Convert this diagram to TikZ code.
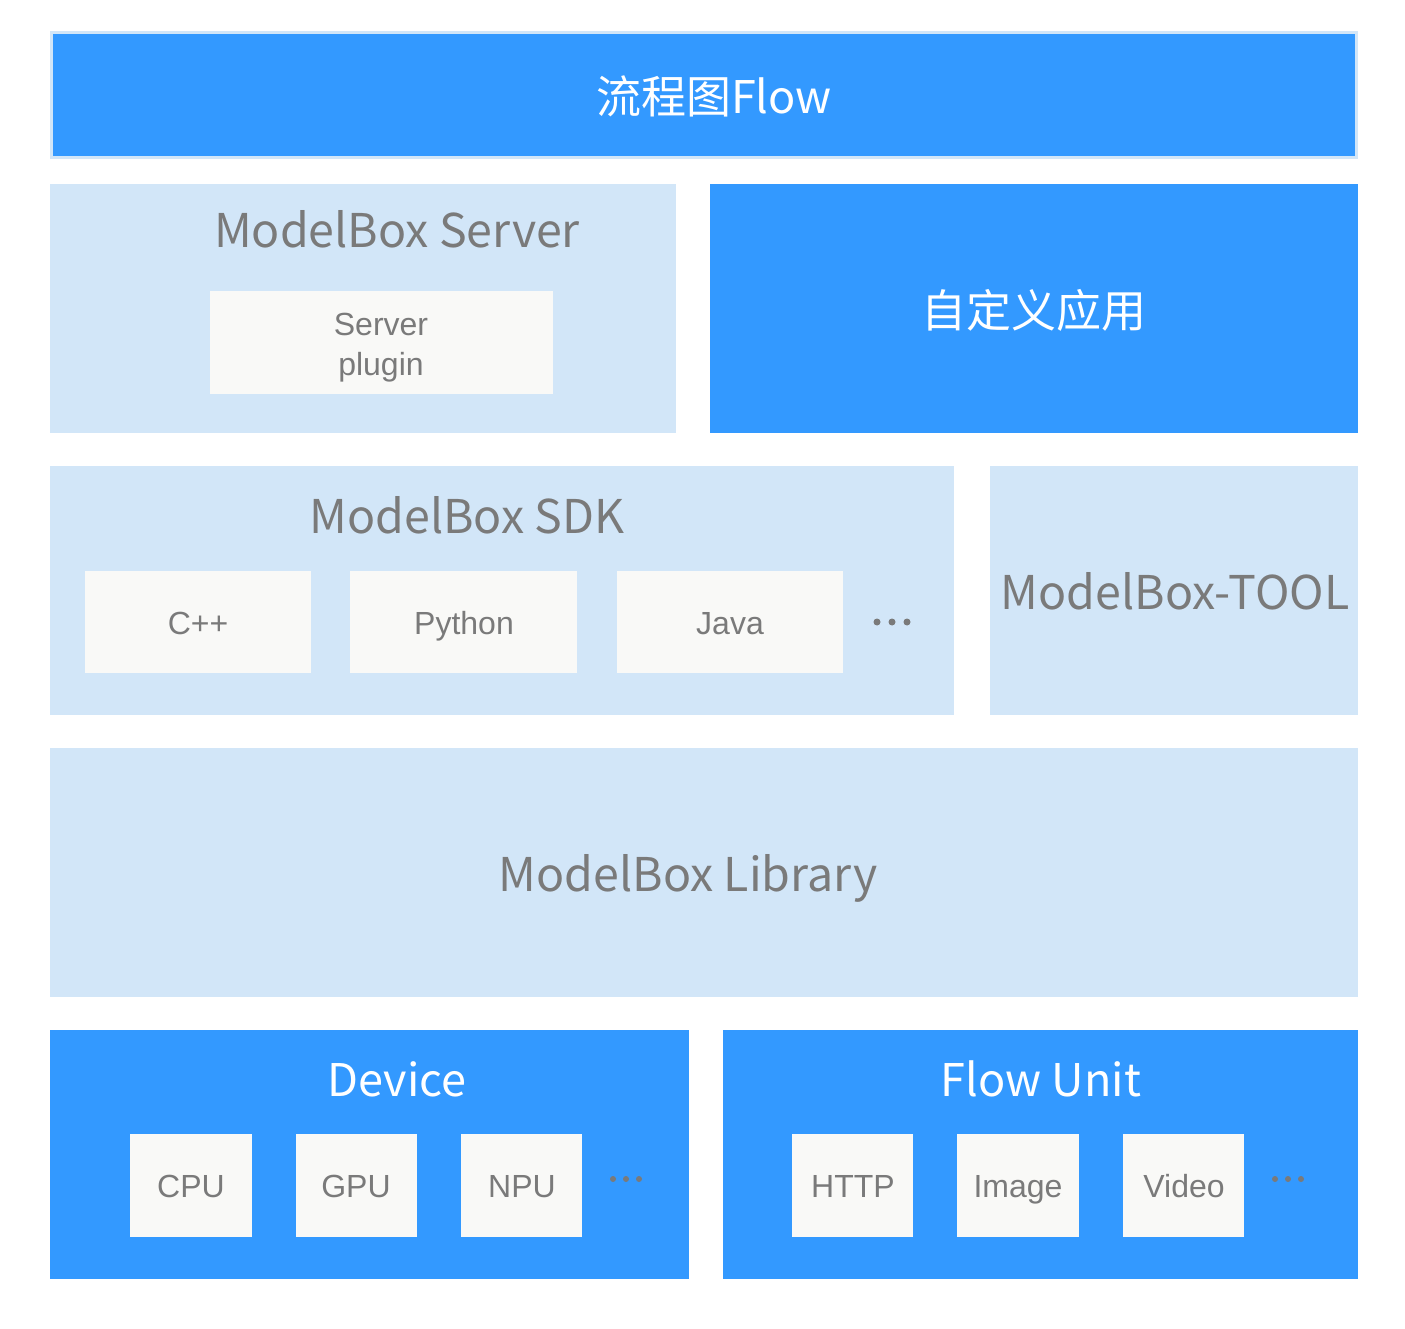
\documentclass[tikz,border=0pt]{standalone}
\usepackage{fontspec}
\setmainfont{Liberation Sans}
\newfontfamily\cjk{Noto Sans CJK SC}
\usetikzlibrary{positioning}
\definecolor{mbblue}{HTML}{3399FF}
\definecolor{mblight}{HTML}{D2E6F8}
\definecolor{mbpaper}{HTML}{F9F9F7}
\definecolor{mbgray}{HTML}{7A7A7A}

\begin{document}
\begin{tikzpicture}[
    x=1pt, y=-1pt,
    every node/.style={inner sep=0, outer sep=0},
    layer/.style={rectangle, fill=mblight, anchor=north west},
    hotlayer/.style={rectangle, fill=mbblue, anchor=north west},
    item/.style={rectangle, fill=mbpaper, anchor=north west},
    label/.style={text=mbgray, font=\fontsize{32}{40}\selectfont, text height=23, text depth=0},
    title/.style={text=mbgray, font=\cjk\fontsize{46.5}{52}\selectfont, text depth=0},
    hottitle/.style={text=white, font=\cjk\fontsize{45}{50}\selectfont},
    dot/.style={fill=mbgray}
]
\useasboundingbox (0,0) rectangle (1405,1329);

% top bar
\node[hotlayer, draw=mblight, line width=3, minimum width=1305, minimum height=125] (flow) at (51.5,32.5) {};
\node[hottitle] (flowtxt) at (714,96) {流程图Flow};

% server and custom app
\node[layer, minimum width=626, minimum height=249] (server) at (50,184) {};
\node[title] (servertxt) at (397,229) {ModelBox Server};
\node[item, minimum width=343, minimum height=103] (plugin) at (210,291) {};
\node[text=mbgray, align=center, font=\fontsize{32}{40}\selectfont] (plugintxt) at (381,348) {Server\\plugin};
\node[hotlayer, minimum width=648, minimum height=249] (app) at (710,184) {};
\node[hottitle] (apptxt) at (1034,310) {自定义应用};

% sdk and tool
\node[layer, minimum width=904, minimum height=249] (sdk) at (50,466) {};
\node[title] (sdktxt) at (467,515) {ModelBox SDK};
\node[item, minimum width=226, minimum height=102] (cpp) at (85,571) {};
\node[label] (cpptxt) at (198,623) {C++};
\node[item, minimum width=227, minimum height=102] (python) at (350,571) {};
\node[label] (pythontxt) at (464,623) {Python};
\node[item, minimum width=226, minimum height=102] (java) at (617,571) {};
\node[label] (javatxt) at (730,623) {Java};
\fill[dot] (877,622) circle (3.5) (892,622) circle (3.5) (907,622) circle (3.5);
\node[layer, minimum width=368, minimum height=249] (tool) at (990,466) {};
\node[title] (tooltxt) at (1175,591) {ModelBox-TOOL};

% library
\node[layer, minimum width=1308, minimum height=249] (library) at (50,748) {};
\node[title] (librarytxt) at (688,873) {ModelBox Library};

% device
\node[hotlayer, minimum width=639, minimum height=249] (device) at (50,1030) {};
\node[hottitle] (devicetxt) at (397,1079) {Device};
\node[item, minimum width=122, minimum height=103] (cpu) at (130,1134) {};
\node[label] (cputxt) at (191,1186) {CPU};
\node[item, minimum width=121, minimum height=103] (gpu) at (296,1134) {};
\node[label] (gputxt) at (356,1186) {GPU};
\node[item, minimum width=121, minimum height=103] (npu) at (461,1134) {};
\node[label] (nputxt) at (522,1186) {NPU};
\fill[dot] (613,1179) circle (3) (626,1179) circle (3) (639,1179) circle (3);

% flow unit
\node[hotlayer, minimum width=635, minimum height=249] (unit) at (723,1030) {};
\node[hottitle] (unittxt) at (1041,1079) {Flow Unit};
\node[item, minimum width=121, minimum height=103] (http) at (792,1134) {};
\node[label] (httptxt) at (853,1186) {HTTP};
\node[item, minimum width=122, minimum height=103] (image) at (957,1134) {};
\node[label] (imagetxt) at (1018,1186) {Image};
\node[item, minimum width=121, minimum height=103] (video) at (1123,1134) {};
\node[label] (videotxt) at (1184,1186) {Video};
\fill[dot] (1275,1179) circle (3) (1288,1179) circle (3) (1301,1179) circle (3);
\end{tikzpicture}
\end{document}
